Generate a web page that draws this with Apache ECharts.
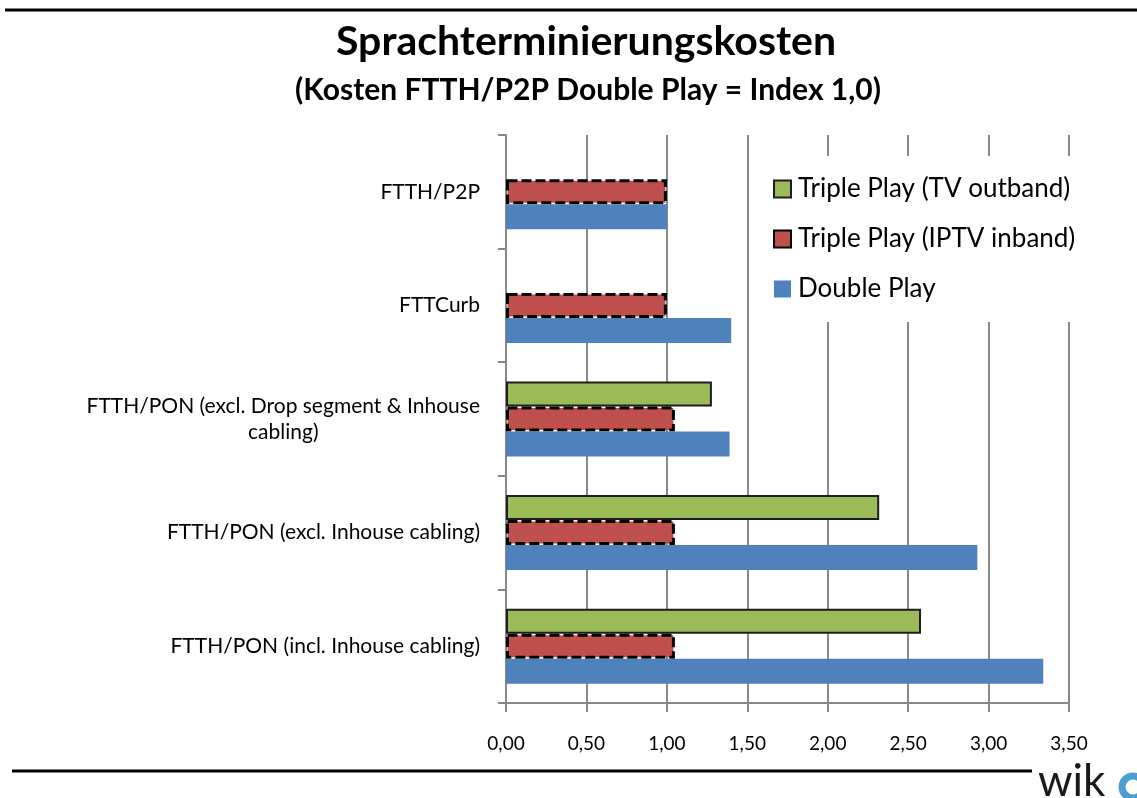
<!DOCTYPE html>
<html>
<head>
<meta charset="utf-8">
<script src="https://cdn.jsdelivr.net/npm/echarts@6/dist/echarts.min.js"></script>
<style>
  html, body { margin: 0; padding: 0; background: #fff; }
  #chart { width: 1137px; height: 798px; }
</style>
</head>
<body>
<div id="chart"></div>
<script>
// categories, top to bottom
var categories = [
  'FTTH/P2P',
  'FTTCurb',
  'FTTH/PON (excl. Drop segment & Inhouse cabling)',
  'FTTH/PON (excl. Inhouse cabling)',
  'FTTH/PON (incl. Inhouse cabling)'
];
var seriesNames = ['Triple Play (TV outband)', 'Triple Play (IPTV inband)', 'Double Play'];
var tvOutband  = [null, null, 1.28, 2.32, 2.58];
var iptvInband = [1.00, 1.00, 1.05, 1.05, 1.05];
var doublePlay = [1.00, 1.40, 1.39, 2.93, 3.34];

var chart = echarts.init(document.getElementById('chart'));
var gridColor = '#888888';
var font = 'Lato, "Open Sans", sans-serif';

function wrapLabel(v) {
  // break the long category the way the original does
  var lines = v.indexOf('Drop segment') >= 0 ? ['FTTH/PON (excl. Drop segment & Inhouse', 'cabling)'] : [v];
  return lines.map(function (l) { return '{c|' + l + '}'; }).join('\n');
}

var option = {
  animation: false,
  backgroundColor: '#fff',
  textStyle: { fontFamily: font, color: '#000' },
  title: [
    { text: 'Sprachterminierungskosten', left: 581, top: 16, textAlign: 'center',
      textStyle: { fontFamily: font, fontSize: 41, fontWeight: 'bold', color: '#000' } },
    { text: '(Kosten FTTH/P2P Double Play = Index 1,0)', left: 583, top: 70, textAlign: 'center',
      textStyle: { fontFamily: font, fontSize: 30, fontWeight: 'bold', color: '#000' } }
  ],
  legend: {
    orient: 'vertical',
    left: 752, top: 156,
    padding: [20, 12, 20, 21],
    backgroundColor: '#fff',
    itemWidth: 17, itemHeight: 17,
    itemGap: 24,
    icon: 'rect',
    data: seriesNames,
    textStyle: { fontFamily: font, fontSize: 26, color: '#000', padding: [0, 0, 0, 2] }
  },
  grid: { left: 506, right: 68, top: 135, bottom: 95, containLabel: false },
  xAxis: {
    type: 'value', min: 0, max: 3.5, interval: 0.5,
    axisLine: { show: true, lineStyle: { color: gridColor, width: 2 } },
    axisTick: { show: true, length: 9, lineStyle: { color: gridColor, width: 2 } },
    splitLine: { show: true, lineStyle: { color: gridColor, width: 2 } },
    axisLabel: {
      margin: 31, fontSize: 19, fontFamily: font, color: '#000',
      formatter: function (v) { return v.toFixed(2).replace('.', ','); }
    }
  },
  yAxis: {
    type: 'category', inverse: true, data: categories,
    axisLine: { show: true, lineStyle: { color: gridColor, width: 2 } },
    axisTick: { show: true, length: 8, lineStyle: { color: gridColor, width: 2 } },
    splitLine: { show: false },
    axisLabel: {
      margin: 26, fontSize: 21, fontFamily: font, color: '#000',
      formatter: wrapLabel,
      rich: { c: { align: 'center', fontSize: 21, fontFamily: font, color: '#000', lineHeight: 26 } }
    }
  },
  series: [
    { name: seriesNames[0], type: 'bar', data: tvOutband, barGap: '0%', barCategoryGap: '34%',
      itemStyle: { color: '#9BBB59', borderColor: '#1e1e1e', borderWidth: 2 } },
    { name: seriesNames[1], type: 'bar', data: iptvInband, barGap: '0%', barCategoryGap: '34%',
      itemStyle: { color: '#C0504D', borderColor: '#000', borderWidth: 3, borderType: [10, 4] } },
    { name: seriesNames[2], type: 'bar', data: doublePlay, barGap: '0%', barCategoryGap: '34%',
      itemStyle: { color: '#4F81BD' } }
  ],
  graphic: [
    { type: 'line', shape: { x1: 5, y1: 10, x2: 1137, y2: 10 }, style: { stroke: '#000', lineWidth: 3 } },
    { type: 'line', shape: { x1: 12, y1: 771, x2: 1032, y2: 771 }, style: { stroke: '#000', lineWidth: 3 } },
    { type: 'text', left: 1038, top: 760,
      style: { text: 'wik', font: '44px Lato, sans-serif', fill: '#1a1a1a' } },
    { type: 'arc', shape: { cx: 1133, cy: 787, r: 11, startAngle: 0, endAngle: Math.PI * 2 },
      style: { stroke: '#4a9fd0', lineWidth: 7, fill: 'none' } }
  ]
};
chart.setOption(option);
</script>
</body>
</html>
